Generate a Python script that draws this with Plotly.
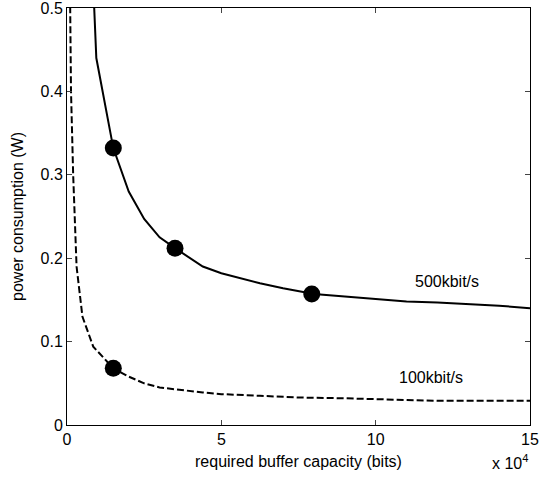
import plotly.graph_objects as go

# 500 kbit/s curve (x in units of 1e4 bits)
x500 = [0.87, 0.95, 1.5, 2.0, 2.5, 3.0, 3.5, 4.4, 5.0, 6.25, 7.0, 8.0, 9.0, 10.0, 11.0, 12.0, 13.0, 14.0, 15.0]
y500 = [0.51, 0.44, 0.332, 0.28, 0.247, 0.225, 0.212, 0.19, 0.182, 0.17, 0.164, 0.157, 0.154, 0.151, 0.148, 0.147, 0.145, 0.143, 0.14]

# 100 kbit/s curve
x100 = [0.09, 0.1, 0.13, 0.2, 0.31, 0.5, 0.85, 1.5, 2.0, 2.5, 3.0, 4.4, 5.0, 6.25, 7.5, 9.0, 10.0, 12.0, 15.0]
y100 = [0.55, 0.5, 0.4, 0.3, 0.19, 0.13, 0.094, 0.068, 0.058, 0.05, 0.045, 0.039, 0.037, 0.035, 0.033, 0.032, 0.031, 0.029, 0.029]

# highlighted points
mx = [1.5, 3.5, 7.93, 1.5]
my = [0.332, 0.212, 0.157, 0.068]

labels = ["500kbit/s", "100kbit/s"]
label_x = [12.3, 11.8]
label_y = [0.172, 0.057]

font = "Liberation Sans, Arial, sans-serif"
fs = 16

fig = go.Figure()
fig.add_trace(go.Scatter(x=x500, y=y500, mode="lines",
                         line=dict(color="black", width=2), showlegend=False))
fig.add_trace(go.Scatter(x=x100, y=y100, mode="lines",
                         line=dict(color="black", width=2, dash="7px,3px"), showlegend=False))
fig.add_trace(go.Scatter(x=mx, y=my, mode="markers",
                         marker=dict(color="black", size=17), showlegend=False))

for t, lx, ly in zip(labels, label_x, label_y):
    fig.add_annotation(x=lx, y=ly, text=t, showarrow=False,
                       font=dict(family=font, size=fs, color="black"))

fig.add_annotation(xref="paper", yref="paper", x=1.0, y=-37 / 417, xanchor="right", yanchor="middle",
                   text="x 10<sup>4</sup>", showarrow=False,
                   font=dict(family=font, size=fs, color="black"))

fig.update_layout(
    width=539, height=483,
    margin=dict(l=67, r=9, t=8, b=58),
    plot_bgcolor="white", paper_bgcolor="white",
    font=dict(family=font, size=fs, color="black"),
)
fig.update_xaxes(range=[0, 15], tickvals=[0, 5, 10, 15], ticks="inside", ticklen=5,
                 showline=True, linecolor="black", linewidth=1, mirror="ticks",
                 showgrid=False, zeroline=False, automargin=False,
                 tickfont=dict(size=fs), ticklabeloverflow="allow",
                 title=dict(text="required buffer capacity (bits)", font=dict(size=fs), standoff=8))
fig.update_yaxes(range=[0, 0.5], tickvals=[0, 0.1, 0.2, 0.3, 0.4, 0.5],
                 ticktext=["0", "0.1", "0.2", "0.3", "0.4", "0.5"],
                 ticks="inside", ticklen=5,
                 showline=True, linecolor="black", linewidth=1, mirror="ticks",
                 showgrid=False, zeroline=False, automargin=False,
                 tickfont=dict(size=fs), ticklabeloverflow="allow",
                 title=dict(text="power consumption (W)", font=dict(size=fs), standoff=12))

fig.write_html("out.html", config={"displayModeBar": False},
               post_script="document.body.style.margin='0px';")
